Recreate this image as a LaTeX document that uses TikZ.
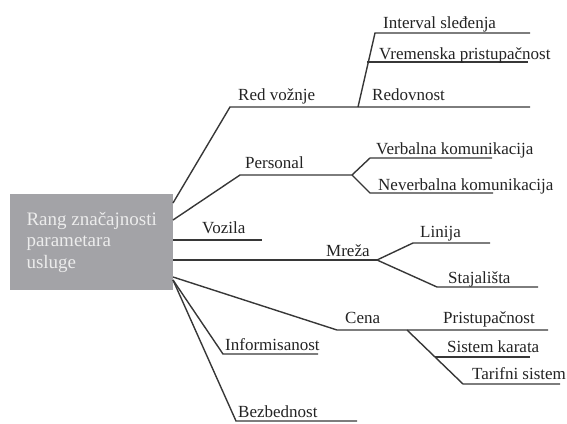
\documentclass[tikz,border=0pt]{standalone}
\usepackage{fontspec}
\setmainfont{Liberation Serif}
\newfontfamily\diagfont{Liberation Serif}
\usepackage{xcolor}
\usetikzlibrary{positioning}

\definecolor{boxgray}{RGB}{163,163,167}
\definecolor{linegray}{RGB}{55,55,55}
\definecolor{textgray}{RGB}{35,35,35}

\begin{document}
\begin{tikzpicture}[x=1pt,y=-1pt,
  branch/.style={draw=linegray, line width=1.4pt},
  lbl/.style={anchor=base west, inner sep=0pt, text=textgray, font=\diagfont\fontsize{17}{18}\selectfont}]
\useasboundingbox (0,0) rectangle (567,423);

% root box
\node [fill=boxgray, minimum width=163, minimum height=96, anchor=north west, align=left,
  text={rgb,255:red,236;green,236;blue,236}, font=\diagfont\fontsize{19}{21.5}\selectfont] (root) at (10,194)
  {Rang značajnosti\\parametara\\usluge};

% Red voznje
\coordinate (o1) at (173,203);
\coordinate (k1) at (230,107);
\coordinate (s1) at (358,107);
\coordinate (e1) at (530,107);
\coordinate (k11) at (375,33);
\coordinate (e11) at (530,33);
\coordinate (k12) at (367,62);
\coordinate (e12) at (528,62);
\draw [branch] (o1) -- (k1) -- (e1);
\draw [branch] (s1) -- (k11) -- (e11);
\draw [branch] (k12) -- (e12);
\node [lbl] (red) at (238,100) {Red vožnje};
\node [lbl] (intv) at (383,28) {Interval sleđenja};
\node [lbl] (vrem) at (379,59) {Vremenska pristupačnost};
\node [lbl] (redov) at (372,100) {Redovnost};

% Personal
\coordinate (o2) at (173,220);
\coordinate (k2) at (240,175);
\coordinate (s2) at (352,175);
\coordinate (k21) at (370,158);
\coordinate (e21) at (492,158);
\coordinate (k22) at (370,193);
\coordinate (e22) at (493,193);
\draw [branch] (o2) -- (k2) -- (s2);
\draw [branch] (s2) -- (k21) -- (e21);
\draw [branch] (s2) -- (k22) -- (e22);
\node [lbl] (pers) at (245,168) {Personal};
\node [lbl] (verb) at (376,154) {Verbalna komunikacija};
\node [lbl] (never) at (378,190) {Neverbalna komunikacija};

% Vozila
\coordinate (o3) at (173,240);
\coordinate (e3) at (262,240);
\draw [branch] (o3) -- (e3);
\node [lbl] (voz) at (202,233) {Vozila};

% Mreza
\coordinate (o4) at (173,260);
\coordinate (s4) at (377,260);
\coordinate (k41) at (413,243);
\coordinate (e41) at (490,243);
\coordinate (k42) at (437,287);
\coordinate (e42) at (538,287);
\draw [branch] (o4) -- (s4);
\draw [branch] (s4) -- (k41) -- (e41);
\draw [branch] (s4) -- (k42) -- (e42);
\node [lbl] (mreza) at (326,256) {Mreža};
\node [lbl] (lin) at (420,237) {Linija};
\node [lbl] (staj) at (448,283) {Stajališta};

% Cena
\coordinate (o5) at (173,277);
\coordinate (k5) at (337,330);
\coordinate (s5) at (407,330);
\coordinate (e5) at (548,330);
\coordinate (k51) at (435,357);
\coordinate (e51) at (530,357);
\coordinate (k52) at (463,384);
\coordinate (e52) at (560,384);
\draw [branch] (o5) -- (k5) -- (e5);
\draw [branch] (s5) -- (k52) -- (e52);
\draw [branch] (k51) -- (e51);
\node [lbl] (cena) at (345,323) {Cena};
\node [lbl] (prist) at (443,323) {Pristupačnost};
\node [lbl] (sist) at (447,352) {Sistem karata};
\node [lbl] (tarif) at (472,379) {Tarifni sistem};

% Informisanost, Bezbednost
\coordinate (o6) at (173,280);
\coordinate (k6) at (223,354);
\coordinate (e6) at (318,354);
\coordinate (k7) at (236,421);
\coordinate (e7) at (357,421);
\draw [branch] (o6) -- (k6) -- (e6);
\draw [branch] (o6) -- (k7) -- (e7);
\node [lbl] (info) at (225,350) {Informisanost};
\node [lbl] (bezb) at (238,417) {Bezbednost};
\end{tikzpicture}
\end{document}
